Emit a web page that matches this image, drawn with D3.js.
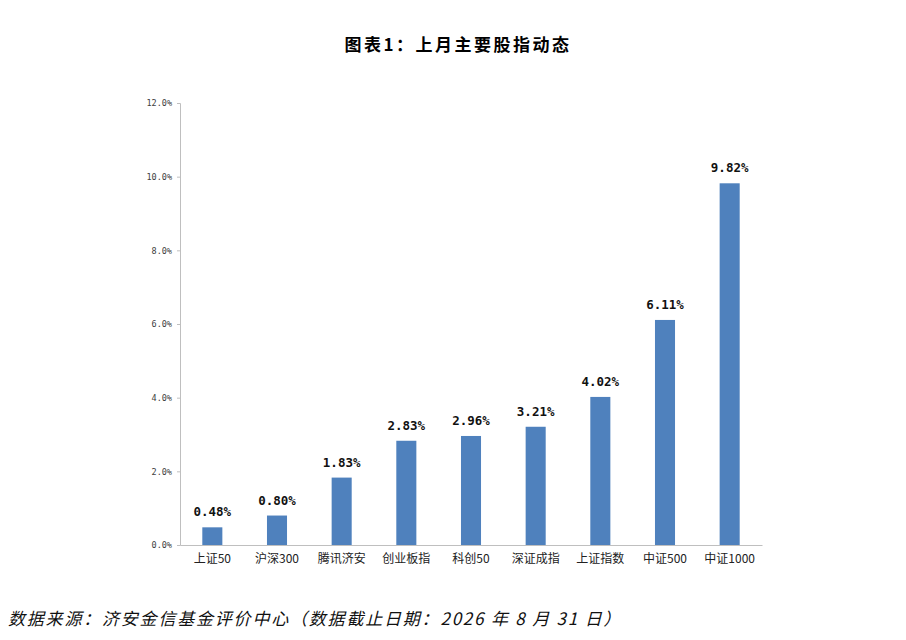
<!DOCTYPE html>
<html lang="zh">
<head>
<meta charset="UTF-8">
<script src="https://d3js.org/d3.v7.min.js"></script>
<title>上月主要股指动态</title>
<style>
  body { margin: 0; background: #fff; }
</style>
</head>
<body>
<svg id="chart" width="906" height="640"></svg>
<script>

// data
const categories = ["上证50", "沪深300", "腾讯济安", "创业板指", "科创50", "深证成指", "上证指数", "中证500", "中证1000"]
const values = [0.48, 0.80, 1.83, 2.83, 2.96, 3.21, 4.02, 6.11, 9.82]
const yTicks = [0, 2, 4, 6, 8, 10, 12]

const title = "图表1：上月主要股指动态"
const source = "数据来源：济安金信基金评价中心（数据截止日期：2026 年 8 月 31 日）"

let svg = d3.select("#chart")
const cjk = "'Noto Sans CJK SC', sans-serif"

let x = d3.scaleBand().domain(categories).range([180, 762]).paddingInner(0.69).paddingOuter(0.345)
let y = d3.scaleLinear().domain([0, 12]).range([545, 103])

// title
svg.append("text")
    .attr("x", 458).attr("y", 51)
    .attr("text-anchor", "middle")
    .style("font-family", cjk).style("font-weight", "bold").style("font-size", "17px")
    .style("letter-spacing", "2.5px")
    .text(title)

// y axis
let yAxis = svg.append("g")
    .attr("transform", "translate(180,0)")
    .call(d3.axisLeft(y).tickValues(yTicks).tickSize(3).tickFormat(d => d.toFixed(1) + "%"))
yAxis.select(".domain").attr("stroke", "#bfbfbf")
yAxis.selectAll(".tick line").attr("stroke", "#bfbfbf")
yAxis.selectAll("text")
    .attr("x", -8)
    .style("font-family", "'DejaVu Sans Mono', monospace").style("font-size", "8.5px").attr("fill", "#404040")

// bars
svg.append("g").selectAll("rect")
    .data(values)
    .enter()
    .append("rect")
    .attr("x", (d, i) => x(categories[i]))
    .attr("y", d => y(d))
    .attr("width", x.bandwidth())
    .attr("height", d => y(0) - y(d))
    .attr("fill", "#4f81bd")

// value labels
svg.append("g").selectAll("text")
    .data(values)
    .enter()
    .append("text")
    .attr("x", (d, i) => x(categories[i]) + x.bandwidth() / 2)
    .attr("y", d => y(d) - 11)
    .attr("text-anchor", "middle")
    .style("font-family", "'DejaVu Sans Mono', monospace").style("font-weight", "bold").style("font-size", "12.5px")
    .attr("fill", "#111")
    .text(d => d.toFixed(2) + "%")

// x axis
let xAxis = svg.append("g")
    .attr("transform", "translate(0,545)")
    .call(d3.axisBottom(x).tickSize(0).tickSizeOuter(0))
xAxis.select(".domain").attr("stroke", "#bfbfbf")
xAxis.selectAll("text")
    .attr("dy", "1.25em")
    .style("font-family", cjk).style("font-size", "12px").attr("fill", "#222")

// source note
svg.append("text")
    .attr("x", 8).attr("y", 625)
    .style("font-family", cjk).style("font-style", "italic").style("font-size", "17px")
    .style("letter-spacing", "1.8px")
    .attr("fill", "#111")
    .text(source)

</script>
</body>
</html>
